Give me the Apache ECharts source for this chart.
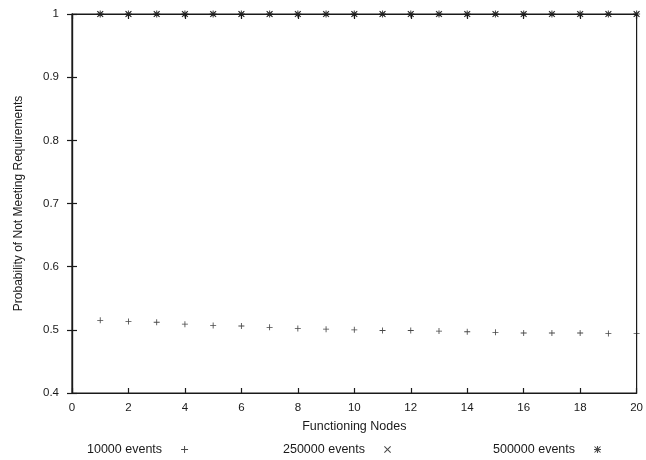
<!DOCTYPE html>
<html>
<head>
<meta charset="utf-8">
<script src="https://cdn.jsdelivr.net/npm/echarts@6/dist/echarts.min.js"></script>
<style>
  html, body { margin: 0; padding: 0; background: #fff; }
  #chart { width: 646px; height: 460px; }
</style>
</head>
<body>
<div id="chart"></div>
<script>
// Functioning nodes (x) and probability of not meeting requirements for each run length
const nodes = [1, 2, 3, 4, 5, 6, 7, 8, 9, 10, 11, 12, 13, 14, 15, 16, 17, 18, 19, 20];
const events10000 = [0.515, 0.513, 0.512, 0.509, 0.507, 0.506, 0.504, 0.502, 0.501, 0.500,
                     0.499, 0.499, 0.498, 0.497, 0.496, 0.495, 0.495, 0.495, 0.494, 0.494];
const events250000 = [1, 1, 1, 1, 1, 1, 1, 1, 1, 1, 1, 1, 1, 1, 1, 1, 1, 1, 1, 1];
const events500000 = [1, 1, 1, 1, 1, 1, 1, 1, 1, 1, 1, 1, 1, 1, 1, 1, 1, 1, 1, 1];
const seriesNames = ['10000 events', '250000 events', '500000 events'];
const xTicks = { min: 0, max: 20, step: 2 };
const yTicks = { min: 0.4, max: 1, step: 0.1 };

// Marker shapes: thin filled plus, diagonal cross and asterisk
const plusPath = 'path://M4.3,0H5.7V4.3H10V5.7H5.7V10H4.3V5.7H0V4.3H4.3Z';
const crossPath = 'path://M1.2,0.2L5,4L8.8,0.2L9.8,1.2L6,5L9.8,8.8L8.8,9.8L5,6L1.2,9.8L0.2,8.8L4,5L0.2,1.2Z';
const starPath = 'path://M4.2,0H5.8V4.2H10V5.8H5.8V10H4.2V5.8H0V4.2H4.2Z' +
  'M1.2,0.2L5,4L8.8,0.2L9.8,1.2L6,5L9.8,8.8L8.8,9.8L5,6L1.2,9.8L0.2,8.8L4,5L0.2,1.2Z';

const toPairs = vals => nodes.map((n, i) => [n, vals[i]]);
const ink = '#1a1a1a';
const font = 'Liberation Sans, Arial, Helvetica, sans-serif';

const chart = echarts.init(document.getElementById('chart'), null, { renderer: 'canvas' });

const baseAxisLine = { show: true, lineStyle: { color: ink, width: 1.2 } };
const tickStyle = { show: true, inside: true, length: 5, lineStyle: { color: ink, width: 1.2 } };

chart.setOption({
  animation: false,
  backgroundColor: '#fff',
  textStyle: { fontFamily: font },
  grid: { left: 72, right: 7, top: 14, bottom: 67, show: true, borderColor: ink, borderWidth: 1.2 },
  xAxis: [
    {
      type: 'value', min: xTicks.min, max: xTicks.max, interval: xTicks.step,
      position: 'bottom',
      name: 'Functioning Nodes', nameLocation: 'middle', nameGap: 27,
      nameTextStyle: { color: ink, fontSize: 12.5, fontFamily: font },
      axisLine: baseAxisLine, axisTick: tickStyle,
      axisLabel: { color: ink, fontSize: 11.5, margin: 9, fontFamily: font },
      splitLine: { show: false }
    },
    {
      type: 'value', min: xTicks.min, max: xTicks.max, interval: xTicks.step,
      position: 'top',
      axisLine: baseAxisLine, axisTick: tickStyle,
      axisLabel: { show: false }, splitLine: { show: false }
    }
  ],
  yAxis: [
    {
      type: 'value', min: yTicks.min, max: yTicks.max, interval: yTicks.step,
      position: 'left',
      name: 'Probability of Not Meeting Requirements', nameLocation: 'middle', nameGap: 47,
      nameTextStyle: { color: ink, fontSize: 12, fontFamily: font },
      axisLine: baseAxisLine, axisTick: tickStyle,
      axisLabel: { color: ink, fontSize: 11.5, margin: 13, fontFamily: font,
                   formatter: v => String(+v.toFixed(1)) },
      splitLine: { show: false }
    },
    {
      type: 'value', min: yTicks.min, max: yTicks.max, interval: yTicks.step,
      position: 'right',
      axisLine: baseAxisLine, axisTick: tickStyle,
      axisLabel: { show: false }, splitLine: { show: false }
    }
  ],
  legend: [0, 1, 2].map((k, i) => ({
    data: [{ name: seriesNames[k] }],
    left: [82, 278, 488][i],
    top: 438,
    align: 'right',
    itemWidth: 7, itemHeight: 7,
    textStyle: { color: ink, fontSize: 12.5, fontFamily: font, padding: [0, 14, 0, 0] },
    selectedMode: false
  })),
  series: [
    {
      name: seriesNames[0], type: 'scatter', data: toPairs(events10000),
      symbol: plusPath, symbolSize: 6,
      itemStyle: { color: ink }, clip: false
    },
    {
      name: seriesNames[1], type: 'scatter', data: toPairs(events250000),
      symbol: crossPath, symbolSize: 6,
      itemStyle: { color: ink }, clip: false
    },
    {
      name: seriesNames[2], type: 'scatter', data: toPairs(events500000),
      symbol: starPath, symbolSize: 7,
      itemStyle: { color: ink }, clip: false
    }
  ]
});
</script>
</body>
</html>
